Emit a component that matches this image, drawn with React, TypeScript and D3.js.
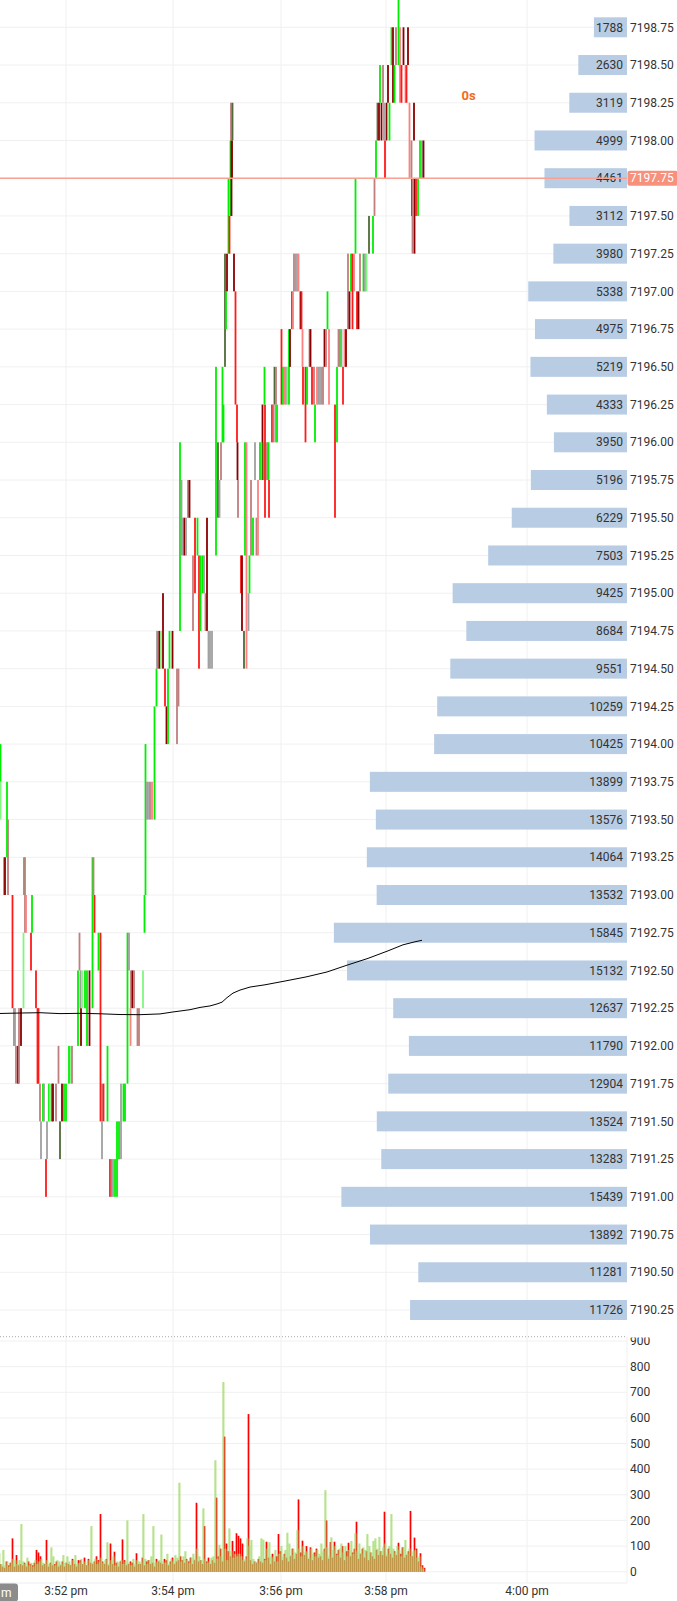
import React from 'react';
import * as d3 from 'd3';

// ---------- DATA ----------
const priceLevels = [
  7199.0, 7198.75, 7198.5, 7198.25, 7198.0, 7197.75, 7197.5, 7197.25, 7197.0, 7196.75,
  7196.5, 7196.25, 7196.0, 7195.75, 7195.5, 7195.25, 7195.0, 7194.75, 7194.5, 7194.25,
  7194.0, 7193.75, 7193.5, 7193.25, 7193.0, 7192.75, 7192.5, 7192.25, 7192.0, 7191.75,
  7191.5, 7191.25, 7191.0, 7190.75, 7190.5, 7190.25,
];
const bookVolumes = [
  2050, 1788, 2630, 3119, 4999, 4461, 3112, 3980, 5338, 4975,
  5219, 4333, 3950, 5196, 6229, 7503, 9425, 8684, 9551, 10259,
  10425, 13899, 13576, 14064, 13532, 15845, 15132, 12637, 11790, 12904,
  13524, 13283, 15439, 13892, 11281, 11726,
];
const lastPrice = 7197.75;
const countdownText = '0s';
const cornerLabel = 'm';

const timeTickSlots = [33, 86.5, 140.5, 193, 263.5];
const timeTickLabels = ['3:52 pm', '3:54 pm', '3:56 pm', '3:58 pm', '4:00 pm'];
const volTicks = [0, 100, 200, 300, 400, 500, 600, 700, 800, 900];

// volume per slot (buy = green, sell = red)
const buyVol = [
  72, 30, 85, 25, 40, 20, 35, 50, 45, 30,
  45, 186, 40, 30, 55, 25, 35, 20, 45, 30,
  40, 50, 35, 30, 45, 30, 95, 60, 25, 45,
  40, 30, 65, 35, 60, 40, 25, 45, 65, 30,
  35, 50, 30, 40, 25, 45, 178, 35, 50, 30,
  40, 55, 35, 45, 115, 30, 45, 60, 25, 40,
  35, 45, 30, 40, 200, 35, 25, 50, 30, 45,
  40, 35, 225, 50, 30, 45, 60, 178, 35, 40,
  45, 145, 40, 35, 70, 30, 50, 40, 65, 55,
  347, 40, 60, 80, 45, 35, 55, 70, 50, 90,
  60, 45, 247, 50, 35, 40, 55, 60, 435, 50,
  105, 60, 740, 90, 45, 169, 80, 55, 70, 60,
  70, 60, 45, 50, 130, 100, 124, 50, 40, 35,
  60, 130, 125, 45, 90, 115, 60, 55, 85, 40,
  70, 100, 60, 85, 152, 110, 65, 90, 75, 162,
  90, 60, 100, 75, 80, 55, 90, 70, 60, 85,
  70, 110, 80, 318, 95, 60, 134, 85, 100, 65,
  90, 110, 75, 100, 60, 85, 120, 70, 150, 80,
  110, 70, 95, 85, 147, 100, 75, 120, 130, 90,
  136, 80, 95, 110, 70, 100, 225, 90, 75, 100,
  85, 60, 95, 124, 70, 90, 60, 80, 85, 55, 60, 20, 12,
];
const sellVol = [
  30, 20, 15, 40, 25, 35, 130, 20, 65, 25,
  30, 25, 35, 20, 40, 30, 25, 35, 85, 75,
  60, 25, 30, 124, 20, 35, 25, 30, 40, 20,
  25, 40, 20, 35, 30, 25, 50, 30, 20, 45,
  45, 30, 55, 25, 50, 35, 30, 40, 60, 45,
  225, 40, 30, 50, 25, 110, 30, 78, 35, 20,
  40, 126, 45, 25, 30, 40, 35, 20, 72, 30,
  30, 55, 25, 40, 45, 30, 35, 20, 50, 40,
  35, 30, 50, 45, 25, 40, 55, 30, 40, 45,
  60, 45, 35, 50, 40, 55, 30, 45, 269, 40,
  45, 30, 178, 40, 55, 30, 45, 35, 289, 60,
  90, 40, 527, 110, 80, 60, 120, 80, 150, 140,
  130, 110, 40, 60, 615, 45, 30, 40, 35, 50,
  40, 35, 50, 117, 55, 30, 70, 40, 60, 147,
  80, 45, 70, 55, 40, 60, 90, 50, 70, 282,
  75, 121, 65, 100, 50, 95, 45, 75, 90, 55,
  60, 45, 90, 200, 50, 116, 55, 117, 70, 85,
  55, 100, 45, 80, 113, 60, 75, 90, 195, 50,
  70, 90, 55, 80, 45, 75, 60, 50, 85, 65,
  80, 65, 234, 60, 90, 70, 55, 80, 65, 113,
  70, 95, 55, 65, 80, 237, 60, 133, 90, 40, 72, 25, 15,
];

// tick bars: [slot, low, high, colour key]
const candles: [number, number, number, string][] = [
  [0.25, 7193.75, 7194.0, 'G'], [0.25, 7193.5, 7193.75, 'L'], [2, 7193.0, 7193.25, 'B'],
  [2.5, 7193.0, 7193.25, 'D'], [3.5, 7193.25, 7193.75, 'G'], [4, 7193.0, 7193.5, 'B'],
  [6.25, 7192.25, 7193.0, 'R'], [7, 7192.0, 7192.25, 'B'], [7.5, 7192.0, 7192.25, 'Y'],
  [8, 7191.75, 7192.0, 'B'], [9, 7191.75, 7192.0, 'D'], [9.5, 7191.75, 7192.25, 'B'],
  [10.5, 7192.0, 7192.25, 'D'], [11.75, 7192.25, 7192.75, 'L'], [12, 7193.0, 7193.25, 'G'],
  [12.5, 7192.75, 7193.25, 'B'], [13, 7192.75, 7193.0, 'S'], [15.5, 7192.5, 7192.75, 'R'],
  [16, 7192.75, 7193.0, 'G'], [18, 7192.25, 7192.5, 'R'], [18.75, 7191.75, 7192.25, 'R'],
  [19.25, 7191.75, 7192.25, 'R'], [20, 7191.5, 7191.75, 'B'], [20.5, 7191.25, 7191.5, 'Y'],
  [21.5, 7191.5, 7191.75, 'G'], [22, 7191.5, 7191.75, 'Y'], [23, 7191.0, 7191.25, 'R'],
  [23.5, 7191.25, 7191.5, 'Y'], [24.5, 7191.5, 7191.75, 'G'], [25, 7191.5, 7191.75, 'L'],
  [26, 7191.5, 7191.75, 'O'], [26.5, 7191.5, 7191.75, 'D'], [28, 7191.5, 7191.75, 'B'],
  [29.25, 7191.75, 7192.0, 'B'], [30, 7191.25, 7191.5, 'O'], [31, 7191.5, 7191.75, 'D'],
  [32, 7191.5, 7191.75, 'G'], [33, 7191.5, 7191.75, 'G'], [34.5, 7191.75, 7192.0, 'G'],
  [35.5, 7191.75, 7192.0, 'L'], [36, 7191.75, 7192.0, 'B'], [39, 7192.0, 7192.5, 'G'],
  [39.75, 7192.5, 7192.75, 'B'], [40.25, 7192.25, 7192.5, 'Y'], [40.5, 7192.0, 7192.25, 'D'],
  [41, 7192.25, 7192.5, 'L'], [42.5, 7192.25, 7192.5, 'G'], [43.5, 7192.0, 7192.5, 'G'],
  [44.75, 7192.0, 7192.5, 'D'], [46.25, 7192.25, 7193.25, 'G'],
  [46.75, 7193.0, 7193.25, 'B'], [47.25, 7192.75, 7193.0, 'R'], [49.25, 7192.5, 7192.75, 'G'],
  [50.25, 7191.5, 7192.75, 'R'], [51, 7191.5, 7191.75, 'B'], [51.75, 7191.5, 7191.75, 'R'],
  [51, 7191.25, 7191.5, 'Y'], [53.75, 7191.5, 7192.0, 'G'], [55, 7191.0, 7191.25, 'R'],
  [55.75, 7191.0, 7191.25, 'B'], [56.5, 7191.0, 7191.25, 'Y'], [57.5, 7191.0, 7191.25, 'G'],
  [58.5, 7191.0, 7191.5, 'G'], [59.5, 7191.25, 7191.5, 'G'], [60.5, 7191.25, 7191.75, 'Y'],
  [61.75, 7191.5, 7191.75, 'G'], [62.5, 7191.5, 7191.75, 'G'], [63.75, 7191.75, 7192.75, 'G'],
  [64.5, 7192.5, 7192.75, 'Y'], [65.5, 7192.25, 7192.5, 'B'], [66.25, 7192.25, 7192.5, 'D'],
  [67, 7192.25, 7192.5, 'B'], [65.25, 7192.0, 7192.25, 'S'], [68.75, 7192.0, 7192.25, 'B'],
  [69.5, 7192.0, 7192.25, 'B'], [71.5, 7192.25, 7192.5, 'L'], [72.25, 7192.75, 7193.0, 'G'],
  [72.75, 7193.0, 7194.0, 'G'], [73.5, 7193.5, 7193.75, 'Y'], [74, 7193.5, 7193.75, 'Y'],
  [75, 7193.5, 7193.75, 'B'], [76, 7193.5, 7193.75, 'S'], [77.25, 7193.5, 7194.25, 'G'],
  [78.25, 7194.25, 7194.5, 'G'], [78.5, 7194.5, 7194.75, 'Y'], [79, 7194.5, 7194.75, 'B'],
  [79.75, 7194.5, 7194.75, 'D'], [80.5, 7194.5, 7194.75, 'L'], [81.5, 7194.5, 7195.0, 'D'],
  [82.5, 7194.25, 7194.5, 'R'], [83.25, 7194.0, 7194.25, 'D'], [84, 7194.0, 7194.5, 'G'],
  [84.75, 7194.5, 7194.75, 'G'], [86.25, 7194.5, 7194.75, 'D'], [88.5, 7194.0, 7194.5, 'B'],
  [89.25, 7194.25, 7194.5, 'B'], [90, 7194.75, 7196.0, 'G'], [90.75, 7195.25, 7195.75, 'Y'],
  [91.5, 7195.25, 7195.5, 'Y'], [92.25, 7195.25, 7195.5, 'D'], [93, 7195.25, 7195.5, 'Y'],
  [94, 7195.5, 7195.75, 'B'], [94.75, 7195.5, 7195.75, 'D'], [96.5, 7194.75, 7195.25, 'B'],
  [97.5, 7195.0, 7195.5, 'R'], [98.75, 7195.25, 7195.5, 'G'], [99.5, 7194.5, 7195.25, 'R'],
  [100.25, 7194.75, 7195.25, 'G'], [101.25, 7195.0, 7195.25, 'G'], [102, 7195.0, 7195.25, 'Y'],
  [102.75, 7194.75, 7195.0, 'B'], [103.5, 7194.75, 7195.5, 'D'], [104.25, 7194.5, 7194.75, 'Y'],
  [105, 7194.5, 7194.75, 'Y'], [106, 7194.5, 7194.75, 'Y'], [108, 7195.25, 7196.5, 'G'],
  [109, 7195.5, 7196.0, 'O'], [109.75, 7195.5, 7195.75, 'Y'], [110.5, 7195.75, 7196.0, 'B'],
  [111.25, 7196.0, 7196.5, 'G'], [111.75, 7196.0, 7196.25, 'G'], [112.5, 7196.5, 7197.25, 'O'],
  [113, 7196.75, 7197.0, 'G'], [113.5, 7197.0, 7197.25, 'D'], [114.25, 7197.25, 7197.75, 'G'],
  [114.75, 7197.25, 7197.5, 'R'], [115.25, 7197.5, 7198.0, 'G'], [115.75, 7197.5, 7198.0, 'D'],
  [116, 7197.75, 7198.0, 'D'], [115.5, 7198.0, 7198.25, 'B'], [116.25, 7198.0, 7198.25, 'O'],
  [117, 7197.0, 7197.25, 'D'], [117.75, 7196.25, 7197.0, 'R'], [118.5, 7196.0, 7196.25, 'R'],
  [118.75, 7195.75, 7196.0, 'D'], [119, 7195.5, 7195.75, 'B'], [120.5, 7195.0, 7195.25, 'R'],
  [121, 7194.75, 7195.25, 'D'], [122, 7194.5, 7194.75, 'O'], [122.5, 7195.25, 7196.0, 'G'],
  [123.25, 7194.5, 7196.0, 'S'], [124.25, 7194.75, 7195.0, 'Y'], [124.75, 7195.0, 7195.25, 'G'],
  [125.5, 7195.25, 7195.75, 'B'], [126.5, 7195.25, 7195.5, 'G'], [127.5, 7195.75, 7196.0, 'Y'],
  [128.25, 7195.25, 7195.5, 'B'], [129, 7195.25, 7195.75, 'S'], [130, 7195.75, 7196.0, 'G'],
  [131.25, 7195.75, 7196.25, 'D'], [131.75, 7195.75, 7196.0, 'G'], [132.5, 7195.5, 7196.25, 'R'],
  [132.25, 7196.25, 7196.5, 'G'], [133.5, 7195.75, 7196.0, 'B'], [134.25, 7195.75, 7196.0, 'G'],
  [134.5, 7195.5, 7195.75, 'R'], [136, 7196.0, 7196.25, 'R'], [136.75, 7196.0, 7196.25, 'B'],
  [137.25, 7196.25, 7196.5, 'O'], [137.75, 7196.0, 7196.25, 'Y'], [138.5, 7196.0, 7196.25, 'G'],
  [138, 7196.25, 7196.5, 'B'], [140.75, 7196.25, 7196.75, 'R'], [141.5, 7196.25, 7196.5, 'G'],
  [142.25, 7196.25, 7196.5, 'S'], [143, 7196.25, 7196.5, 'Y'], [143.75, 7196.25, 7196.5, 'L'],
  [144.5, 7196.25, 7196.75, 'G'], [145, 7196.5, 7196.75, 'D'], [146, 7196.75, 7197.0, 'O'],
  [146.5, 7196.75, 7197.0, 'S'], [147, 7197.0, 7197.25, 'B'], [147.75, 7197.0, 7197.25, 'Y'],
  [148.5, 7197.0, 7197.25, 'Y'], [149.25, 7197.0, 7197.25, 'S'], [150.25, 7196.75, 7197.0, 'D'],
  [150.75, 7196.75, 7197.0, 'R'], [151.25, 7196.5, 7196.75, 'S'], [151.5, 7196.25, 7196.5, 'R'],
  [152.75, 7196.0, 7196.5, 'R'], [153.5, 7196.25, 7196.5, 'G'], [154.75, 7196.5, 7196.75, 'B'],
  [155.25, 7196.5, 7196.75, 'D'], [156, 7196.25, 7196.5, 'R'], [157, 7196.25, 7196.5, 'B'],
  [157.5, 7196.0, 7196.25, 'G'], [158.5, 7196.25, 7196.5, 'S'], [159.25, 7196.25, 7196.5, 'Y'],
  [160, 7196.25, 7196.5, 'Y'], [160.75, 7196.25, 7196.5, 'Y'], [161.5, 7196.25, 7196.5, 'B'],
  [162.25, 7196.5, 7196.75, 'D'], [163, 7196.5, 7196.75, 'B'], [163.75, 7196.75, 7197.0, 'G'],
  [164.5, 7196.25, 7196.75, 'S'], [167.5, 7195.5, 7196.25, 'R'], [168.5, 7196.0, 7196.5, 'G'],
  [169.25, 7196.5, 7196.75, 'B'], [170, 7196.5, 7196.75, 'G'], [170.75, 7196.5, 7196.75, 'Y'],
  [171.5, 7196.25, 7196.5, 'R'], [172.25, 7196.5, 7196.75, 'S'], [173, 7196.5, 7196.75, 'D'],
  [174, 7196.75, 7197.25, 'B'], [174.75, 7196.75, 7197.0, 'D'], [175.5, 7197.0, 7197.25, 'G'],
  [176.25, 7196.75, 7197.25, 'R'], [177, 7197.0, 7197.25, 'S'], [177.75, 7197.25, 7197.75, 'G'],
  [178.5, 7196.75, 7197.0, 'R'], [179.25, 7196.75, 7197.0, 'D'], [180, 7197.0, 7197.25, 'B'],
  [181.75, 7197.0, 7197.25, 'G'], [182.5, 7197.0, 7197.25, 'Y'], [183.25, 7197.0, 7197.25, 'L'],
  [184.5, 7197.25, 7197.5, 'O'], [186.5, 7197.25, 7197.5, 'G'], [187.25, 7197.5, 7197.75, 'B'],
  [188, 7197.75, 7198.0, 'G'], [188.75, 7198.0, 7198.25, 'O'], [189.5, 7198.0, 7198.25, 'D'],
  [190, 7198.25, 7198.5, 'G'], [190.75, 7198.0, 7198.25, 'D'], [191.5, 7198.25, 7198.5, 'B'],
  [192, 7198.0, 7198.25, 'Y'], [192.5, 7197.75, 7198.0, 'R'], [193.25, 7198.0, 7198.25, 'D'],
  [194, 7198.25, 7198.5, 'D'], [194.75, 7198.0, 7198.25, 'G'], [195.75, 7198.5, 7198.75, 'G'],
  [196.5, 7198.25, 7198.75, 'D'], [197.25, 7198.25, 7198.5, 'G'], [198, 7198.5, 7198.75, 'B'],
  [199.25, 7198.5, 7199.0, 'G'], [200, 7198.25, 7198.75, 'S'], [200.75, 7198.25, 7198.5, 'R'],
  [201.75, 7198.5, 7198.75, 'D'], [202.75, 7198.25, 7198.5, 'S'], [203.25, 7198.25, 7198.5, 'R'],
  [204, 7198.5, 7198.75, 'D'], [204.75, 7197.75, 7198.25, 'S'], [205.75, 7197.75, 7198.0, 'B'],
  [206, 7197.5, 7197.75, 'D'], [206.25, 7197.25, 7197.75, 'B'], [207, 7198.0, 7198.25, 'D'],
  [207.25, 7197.25, 7197.75, 'D'], [208, 7197.5, 7197.75, 'R'], [209, 7197.5, 7197.75, 'G'],
  [210, 7197.75, 7198.0, 'G'], [211, 7197.75, 7198.0, 'Y'], [211.75, 7197.75, 7198.0, 'D'],
];

// running average line: [slot, price]
const vwap: [number, number][] = [
  [0, 7192.215], [10, 7192.218], [20, 7192.22], [30, 7192.214], [40, 7192.216],
  [50, 7192.213], [60, 7192.208], [70, 7192.207], [80, 7192.212], [86.5, 7192.225],
  [95, 7192.24], [100, 7192.255], [105, 7192.265], [108.5, 7192.278], [111, 7192.29],
  [113.5, 7192.32], [116.5, 7192.35], [120, 7192.37], [125, 7192.39], [132.5, 7192.405],
  [142.5, 7192.43], [153, 7192.457], [163.5, 7192.49], [173.5, 7192.535], [184, 7192.58],
  [194, 7192.63], [201.5, 7192.67], [207.5, 7192.69], [211, 7192.7],
];

// ---------- STYLE ----------
const W = 677;
const H = 1601;
const PLOT_R = 627;
const PRICE_BOTTOM = 1334;
const VOL_TOP = 1337;
const AXIS_Y = 1583;

const candleColors: Record<string, string> = {
  G: '#00ee00',
  L: '#80f880',
  R: '#ff1a1a',
  D: '#8b0000',
  S: '#ff8080',
  B: '#c07e7e',
  Y: '#a0a0a0',
  O: '#4f6b38',
};

const GRID = '#f0f0f0';
const TEXT = '#333333';
const FONT = 'Roboto, "Noto Sans", sans-serif';

export default function App() {
  const x = d3.scaleLinear().domain([0, 313.5]).range([0, PLOT_R]);
  const y = d3.scaleLinear().domain([7198.75, 7190.25]).range([27.3, 1310]);
  const bookX = d3.scaleLinear().domain([0, 16000]).range([0, 296]);
  const yVol = d3.scaleLinear().domain([0, 900]).range([1571.7, 1341]);

  const line = d3
    .line<[number, number]>()
    .x((d) => x(d[0]))
    .y((d) => y(d[1]))
    .curve(d3.curveLinear);

  const candleW = 1.8;
  const sellW = 1.7;
  const buyW = 2.1;
  const bookH = 20;

  return (
    <svg
      width={W}
      height={H}
      viewBox={`0 0 ${W} ${H}`}
      style={{ position: 'absolute', left: 0, top: 0, display: 'block', fontFamily: FONT }}
    >
      <defs>
        <clipPath id="pricePanel">
          <rect x={0} y={0} width={PLOT_R} height={PRICE_BOTTOM} />
        </clipPath>
        <clipPath id="volPanel">
          <rect x={0} y={VOL_TOP} width={PLOT_R} height={AXIS_Y - VOL_TOP} />
        </clipPath>
        <clipPath id="volAxis">
          <rect x={PLOT_R} y={VOL_TOP + 0.5} width={W - PLOT_R} height={AXIS_Y - VOL_TOP} />
        </clipPath>
      </defs>
      <rect x={0} y={0} width={W} height={H} fill="#ffffff" />

      {/* vertical time grid */}
      {timeTickSlots.map((s, i) => (
        <line key={'vg' + i} x1={x(s)} x2={x(s)} y1={0} y2={AXIS_Y} stroke={GRID} strokeWidth={1} />
      ))}

      {/* price grid */}
      <g clipPath="url(#pricePanel)">
        {priceLevels.map((p) => (
          <line key={'pg' + p} x1={0} x2={PLOT_R} y1={y(p)} y2={y(p)} stroke={GRID} strokeWidth={1} />
        ))}
      </g>

      {/* volume grid */}
      <g clipPath="url(#volPanel)">
        {volTicks.map((v) => (
          <line key={'vgl' + v} x1={0} x2={PLOT_R} y1={yVol(v)} y2={yVol(v)} stroke={GRID} strokeWidth={1} />
        ))}
      </g>

      {/* order book profile */}
      <g clipPath="url(#pricePanel)">
        {priceLevels.map((p, i) => (
          <g key={'ob' + p}>
            <rect
              x={PLOT_R - bookX(bookVolumes[i])}
              y={y(p) - bookH / 2}
              width={bookX(bookVolumes[i])}
              height={bookH}
              fill="#b8cce4"
            />
            {y(p) > 8 ? (
              <text x={PLOT_R - 4} y={y(p)} dy="0.35em" textAnchor="end" fontSize={12} fill={TEXT}>
                {bookVolumes[i]}
              </text>
            ) : null}
          </g>
        ))}
      </g>

      {/* tick bars */}
      <g clipPath="url(#pricePanel)">
        {candles.map((c, i) => (
          <rect
            key={'c' + i}
            x={x(c[0]) - candleW / 2}
            y={y(c[2])}
            width={candleW}
            height={y(c[1]) - y(c[2])}
            fill={candleColors[c[3]]}
          />
        ))}
        <path d={line(vwap) || ''} fill="none" stroke="#000000" strokeWidth={1} />
      </g>

      {/* last price line */}
      <line x1={0} x2={PLOT_R} y1={y(lastPrice)} y2={y(lastPrice)} stroke="#f7a293" strokeWidth={1.5} />

      {/* price axis labels */}
      {priceLevels.map((p) =>
        p === lastPrice || y(p) < 8 ? null : (
          <text key={'pl' + p} x={630} y={y(p)} dy="0.35em" fontSize={12} fill={TEXT}>
            {p.toFixed(2)}
          </text>
        )
      )}
      <rect x={PLOT_R + 0.5} y={y(lastPrice) - 7.5} width={W - PLOT_R} height={15} rx={2} fill="#f5917c" />
      <text x={630} y={y(lastPrice)} dy="0.35em" fontSize={12} fill="#ffffff">
        {lastPrice.toFixed(2)}
      </text>

      {/* countdown */}
      <text x={461.5} y={95} dy="0.35em" fontSize={13} fontWeight={700} fill="#f26a21">
        {countdownText}
      </text>

      {/* panel separator */}
      <line x1={0} x2={PLOT_R} y1={1336.7} y2={1336.7} stroke="#aaaaaa" strokeWidth={1} strokeDasharray="1 2" />

      {/* volume bars */}
      <g clipPath="url(#volPanel)">
        {sellVol.map((v, i) => (
          <rect
            key={'sv' + i}
            x={x(i + 0.25) - sellW / 2}
            y={yVol(v)}
            width={sellW}
            height={yVol(0) - yVol(v)}
            fill="#ff0000"
          />
        ))}
        {buyVol.map((v, i) => (
          <rect
            key={'bv' + i}
            x={x(i - 0.3) - buyW / 2}
            y={yVol(v)}
            width={buyW}
            height={yVol(0) - yVol(v)}
            fill="#a3dc6c"
            fillOpacity={0.8}
          />
        ))}
      </g>
      <line x1={PLOT_R} x2={PLOT_R} y1={VOL_TOP} y2={AXIS_Y} stroke={GRID} strokeWidth={1} />

      {/* volume axis labels */}
      <g clipPath="url(#volAxis)">
        {volTicks.map((v) => (
          <text key={'vl' + v} x={630} y={yVol(v)} dy="0.35em" fontSize={12} fill={TEXT}>
            {v}
          </text>
        ))}
      </g>

      {/* time axis */}
      <line x1={0} x2={PLOT_R} y1={AXIS_Y} y2={AXIS_Y} stroke="#eeeeee" strokeWidth={1} />
      {timeTickSlots.map((s, i) => (
        <text key={'tl' + i} x={x(s)} y={1591} dy="0.35em" textAnchor="middle" fontSize={12} fill={TEXT}>
          {timeTickLabels[i]}
        </text>
      ))}
      <rect x={-44} y={1583.5} width={62} height={18} rx={3} fill="#8c8c8c" />
      <text x={1} y={1592.5} dy="0.35em" fontSize={12} fill="#ffffff">
        {cornerLabel}
      </text>
    </svg>
  );
}
